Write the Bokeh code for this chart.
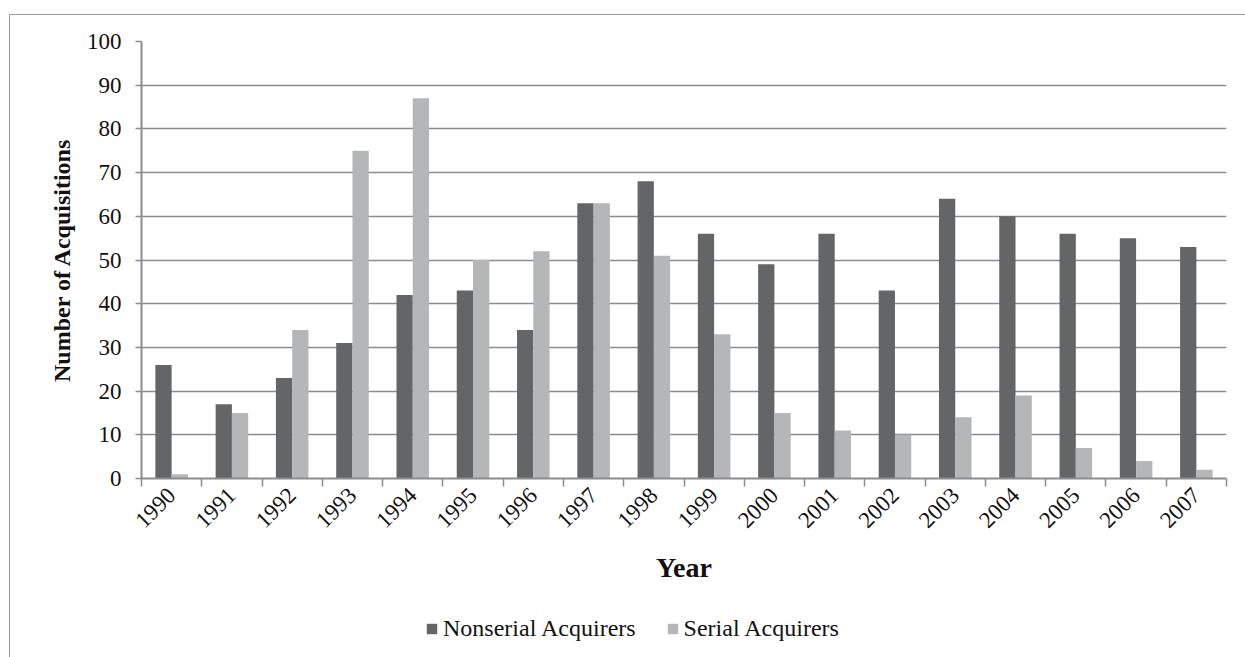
import numpy as np
from bokeh.plotting import figure
from bokeh.layouts import column
from bokeh.models import (ColumnDataSource, Range1d, FixedTicker, LinearAxis,
                          Legend, LegendItem)
from bokeh.transform import dodge
from bokeh.embed import file_html
from bokeh.resources import INLINE

years = ["1990", "1991", "1992", "1993", "1994", "1995", "1996", "1997", "1998",
         "1999", "2000", "2001", "2002", "2003", "2004", "2005", "2006", "2007"]
nonserial = [26, 17, 23, 31, 42, 43, 34, 63, 68, 56, 49, 56, 43, 64, 60, 56, 55, 53]
serial = [1, 15, 34, 75, 87, 50, 52, 63, 51, 33, 15, 11, 10, 14, 19, 7, 4, 2]
series_names = ["Nonserial Acquirers", "Serial Acquirers"]

n = len(years)
src = ColumnDataSource(dict(x=list(range(n)), nonserial=nonserial, serial=serial))

FONT = "Liberation Serif"
GRID = "#8c8c8c"
DARK = "#646567"
LIGHT = "#b5b6b8"
BORDER = "1px solid #9a9a9a"

p = figure(width=1235, height=585, frame_width=1084, frame_height=436,
           output_backend="svg", toolbar_location=None,
           x_range=Range1d(-0.5, n - 0.5), y_range=Range1d(0, 100),
           min_border_left=131, min_border_right=20, min_border_top=26,
           min_border_bottom=0, x_axis_type=None)
p.margin = (14, 0, 0, 9)
p.styles = {"border-top": BORDER, "border-left": BORDER}
p.outline_line_color = None

p.vbar(x=dodge("x", -0.135, range=p.x_range), top="nonserial", width=0.27,
       source=src, fill_color=DARK, line_color=None)
p.vbar(x=dodge("x", 0.135, range=p.x_range), top="serial", width=0.27,
       source=src, fill_color=LIGHT, line_color=None)

xaxis = LinearAxis(
    ticker=FixedTicker(ticks=list(range(n)), minor_ticks=[i - 0.5 for i in range(n + 1)]),
    major_label_overrides={i: y for i, y in enumerate(years)},
)
xaxis.major_tick_line_color = None
xaxis.major_tick_out = 0
xaxis.minor_tick_line_color = GRID
xaxis.minor_tick_line_width = 1.5
xaxis.minor_tick_out = 8
xaxis.minor_tick_in = 0
xaxis.major_label_orientation = np.pi / 4
xaxis.major_label_text_font = FONT
xaxis.major_label_text_font_size = "23px"
xaxis.major_label_text_color = "#111111"
xaxis.major_label_standoff = 5
xaxis.axis_line_color = GRID
xaxis.axis_line_width = 2
xaxis.axis_label = "Year"
xaxis.axis_label_text_font = FONT
xaxis.axis_label_text_font_size = "28px"
xaxis.axis_label_text_font_style = "bold"
xaxis.axis_label_text_color = "#111111"
xaxis.axis_label_standoff = 14
p.add_layout(xaxis, "below")

ya = p.yaxis[0]
ya.ticker = FixedTicker(ticks=list(range(0, 101, 10)))
ya.minor_tick_line_color = None
ya.major_tick_line_color = GRID
ya.major_tick_line_width = 1.5
ya.major_tick_out = 6
ya.major_tick_in = 0
ya.axis_line_color = GRID
ya.axis_line_width = 2
ya.major_label_text_font = FONT
ya.major_label_text_font_size = "23px"
ya.major_label_text_color = "#111111"
ya.major_label_standoff = 14
ya.axis_label = "Number of Acquisitions"
ya.axis_label_text_font = FONT
ya.axis_label_text_font_size = "24px"
ya.axis_label_text_font_style = "bold"
ya.axis_label_text_color = "#111111"
ya.axis_label_standoff = 9

p.xgrid.grid_line_color = None
p.ygrid.grid_line_color = GRID
p.ygrid.grid_line_width = 1.5
p.ygrid.ticker = FixedTicker(ticks=list(range(0, 101, 10)))

# legend strip below the chart (same border frame)
lf = figure(width=1235, height=75, output_backend="svg", toolbar_location=None,
            x_range=Range1d(-0.5, n - 0.5), y_range=Range1d(0, 100),
            min_border=0, x_axis_type=None, y_axis_type=None)
lf.margin = (0, 0, 0, 9)
lf.styles = {"border-left": BORDER}
lf.outline_line_color = None
lf.grid.grid_line_color = None
l1 = lf.vbar(x="x", top="nonserial", width=0.27, source=src,
             fill_color=DARK, line_color=None, visible=False)
l2 = lf.vbar(x="x", top="serial", width=0.27, source=src,
             fill_color=LIGHT, line_color=None, visible=False)

legend = Legend(items=[LegendItem(label=series_names[0], renderers=[l1]),
                       LegendItem(label=series_names[1], renderers=[l2])],
                orientation="horizontal", location=(284, 17))
legend.label_text_font = FONT
legend.label_text_font_size = "24px"
legend.label_text_color = "#111111"
legend.glyph_width = 13
legend.glyph_height = 13
legend.label_standoff = 5
legend.spacing = 30
legend.padding = 4
legend.margin = 0
legend.inactive_fill_alpha = 0
legend.border_line_color = None
legend.background_fill_alpha = 0
lf.add_layout(legend, "center")

layout = column(p, lf, spacing=0)
open("out.html", "w").write(file_html(layout, INLINE))
